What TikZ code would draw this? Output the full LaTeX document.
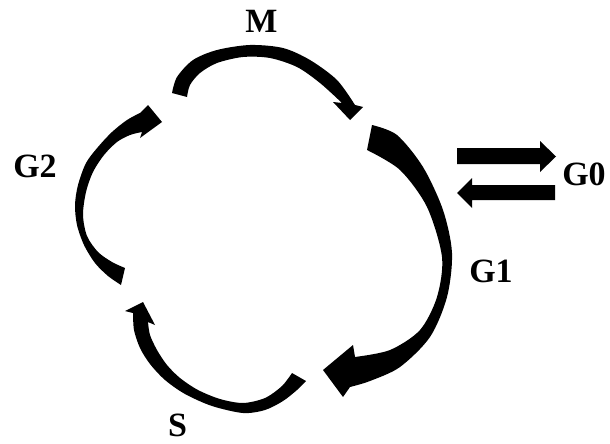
\documentclass[tikz,border=0pt]{standalone}
\usepackage{fontspec}
\setmainfont{Liberation Serif}
\begin{document}
\begin{tikzpicture}[x=1pt,y=-1pt]
\tikzset{
  arrowfill/.style={fill=black},
  lbl/.style={font=\bfseries\fontsize{34}{34}\selectfont, inner sep=0pt, anchor=base}
}
\useasboundingbox (0,0) rectangle (610,444);
\fill[white] (0,0) rectangle (610,444);

% M arrow
\fill[arrowfill] plot[smooth] coordinates {(172,93) (177,77) (193,60) (217,50) (250,45) (283,48) (310,60) (337,80) (355,105)}
  -- (363,107) -- (350,120) -- (333,102)
  -- plot[smooth] coordinates {(342,103) (320,83) (297,67) (270,58) (243,57) (217,63) (200,73) (190,85) (187,97)} -- cycle;

% G1 arrow
\fill[arrowfill] plot[smooth] coordinates {(372,125) (397,135) (423,167) (443,210) (452,253) (447,297) (430,337) (400,367) (370,381) (350,387)}
  -- (343,397) -- (323,370) -- (353,345)
  -- plot[smooth] coordinates {(355,357) (390,350) (420,330) (437,297) (442,257) (427,207) (400,170) (367,150)} -- cycle;

% G2 arrow
\fill[arrowfill] plot[smooth] coordinates {(121,285) (108,276) (95,263) (84,245) (77,225) (75,205) (78,185) (86,163) (98,147) (112,132) (127,120) (140,113)}
  -- (148,105) -- (162,122) -- (140,138)
  -- plot[smooth] coordinates {(142,132) (130,135) (117,142) (104,155) (93,172) (86,192) (83,215) (87,236) (98,252) (112,262) (125,268)} -- cycle;

% S arrow
\fill[arrowfill] plot[smooth] coordinates {(306,381) (297,390) (283,401) (265,410) (243,413) (212,406) (185,394) (165,380) (150,364) (140,348) (134,330) (133,313)}
  -- (125,311) -- (143,302) -- (155,325)
  -- plot[smooth] coordinates {(148,322) (150,335) (157,350) (167,365) (180,378) (198,390) (220,399) (243,403) (265,398) (282,386) (292,373)} -- cycle;

% G0 arrows
\fill[arrowfill] (457,148) -- (540,148) -- (540,141) -- (556,156.5) -- (540,172) -- (540,164) -- (457,164) -- cycle;
\fill[arrowfill] (555,185) -- (472,185) -- (472,178) -- (457,193) -- (472,208) -- (472,200) -- (555,200) -- cycle;

% labels
\node[lbl] (m) at (261.5,33) {M};
\node[lbl] (g2) at (35,177) {G2};
\node[lbl] (g0) at (584,185) {G0};
\node[lbl] (g1) at (491,282) {G1};
\node[lbl] (s) at (177.5,436) {S};
\end{tikzpicture}
\end{document}
